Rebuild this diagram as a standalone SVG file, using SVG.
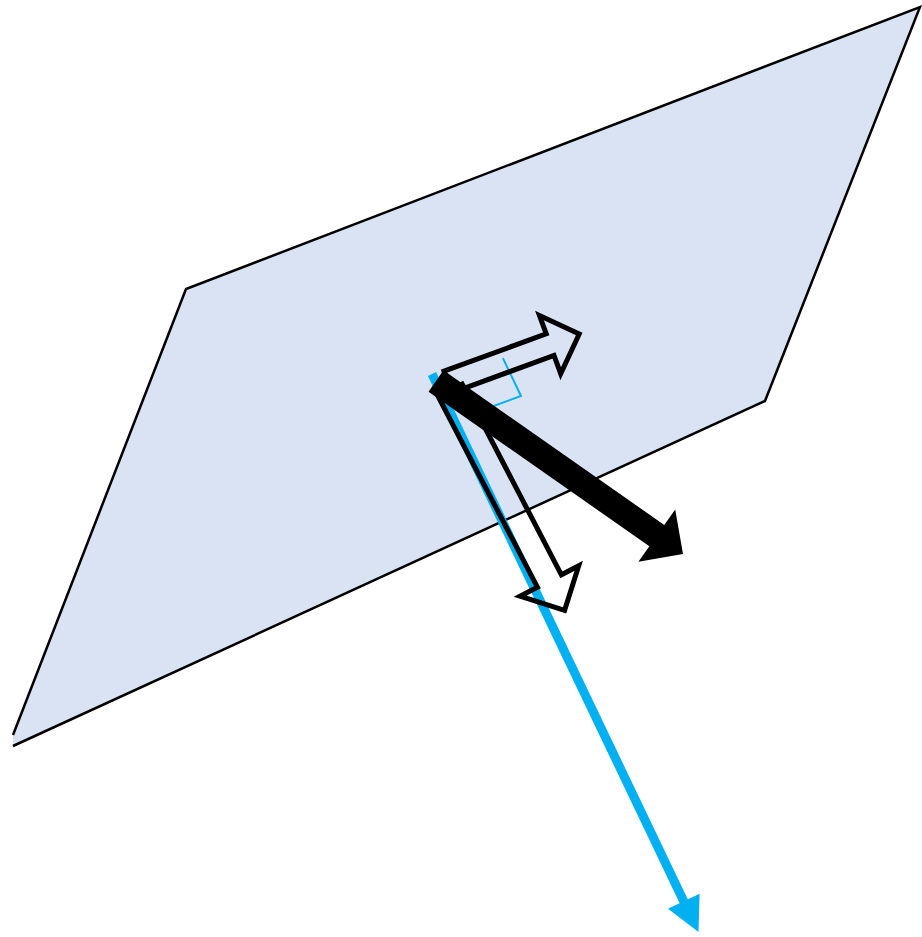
<svg xmlns="http://www.w3.org/2000/svg" width="922" height="937" viewBox="0 0 922 937">
<style>
.plane{fill:#dae3f3;stroke:#000;stroke-width:2.5;stroke-linejoin:miter}
.hollow{fill:none;stroke:#000;stroke-width:5;stroke-linejoin:miter;stroke-miterlimit:10}
.cyan{fill:#00b0f0}
.cyanline{fill:none;stroke:#00b0f0}
.solid{fill:#000}
</style>
<rect width="922" height="937" fill="#fff"/>
<g id="plane">
<path class="plane" d="M13,735 L186,289 L920,7 L765,401 L13,746"/>
</g>
<g id="connectors">
<polyline id="right-angle" class="cyanline" stroke-width="2" points="502.9,358.1 521,396 474,413.2"/>
<g id="normal-vector">
<line class="cyanline" stroke-width="9" x1="432" y1="374" x2="686" y2="906"/>
<polygon class="cyan" points="698.5,932 699.6,893.8 668,908.8"/>
</g>
<polygon id="tangent-vector" class="hollow" points="444,371.2 546.2,333.8 539.5,315.5 579.2,334 560.7,373.7 554,355.4 451.8,392.8"/>
<polygon id="normal-hollow-vector" class="hollow" points="438.2,396.5 537.4,587.2 520.1,596.2 564.6,610.3 578.7,565.8 561.4,574.8 462.2,384.1"/>
<polygon id="thick-vector" class="solid" points="443.46,370.35 664.26,524.95 675.2,509.4 683,554 638.4,561.8 649.34,546.25 428.54,391.65"/>
</g>
</svg>
